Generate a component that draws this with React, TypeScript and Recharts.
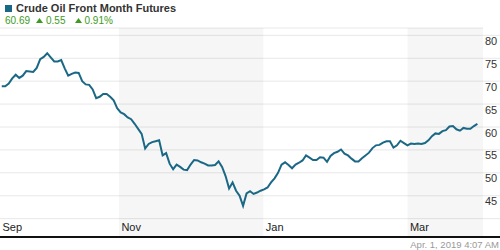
import React from 'react';
import { LineChart, Line, XAxis, YAxis, CartesianGrid, ReferenceArea } from 'recharts';

// daily settles, mid Sep 2018 -> end of Mar 2019 (trading day index)
const prices = [
  68.9, 68.9, 69.5, 70.6, 71.4, 70.7, 71.2, 72.2, 72.1, 72.0,
  72.9, 74.8, 75.3, 76.1, 75.2, 74.3, 74.3, 74.6, 72.8, 71.2,
  71.6, 71.9, 71.8, 70.0, 69.3, 69.2, 68.2, 66.3, 66.6, 67.2,
  67.2, 66.6, 65.8, 64.1, 63.2, 62.8, 62.1, 61.7, 60.7, 59.6,
  58.5, 55.3, 56.3, 56.7, 56.9, 57.1, 53.8, 54.3, 52.0, 50.8,
  51.8, 51.3, 50.7, 50.6, 51.8, 52.8, 52.7, 52.3, 52.0, 51.6,
  51.6, 51.7, 52.5, 51.3, 49.3, 46.6, 47.9, 46.1, 45.0, 42.8,
  45.5, 46.0, 45.4, 45.7, 46.1, 46.4, 46.8, 47.9, 48.8, 50.0,
  51.8, 52.3, 51.7, 51.0, 51.8, 52.2, 52.7, 53.8, 53.3, 52.8,
  52.8, 53.4, 53.3, 52.4, 53.7, 54.3, 54.6, 55.1, 54.2, 53.8,
  53.1, 52.5, 52.5, 53.2, 53.8, 54.4, 55.4, 56.0, 56.1, 56.6,
  56.9, 56.9, 55.5, 56.0, 57.0, 56.5, 56.0, 56.4, 56.3, 56.4,
  56.3, 56.5, 57.1, 58.0, 58.6, 58.5, 59.1, 59.3, 60.1, 60.2,
  59.5, 59.2, 59.8, 59.6, 59.6, 60.2, 60.69
];

// month starts on the trading day index axis
const monthTicks = [-0.5, 33.5, 74.8, 116];
const monthLabels = ['Sep', 'Nov', 'Jan', 'Mar'];
const xEnd = 137.6;

// shaded alternate months
const bands = [
  [33.5, 74.8],
  [116, 137.6]
];

const priceTicks = [40, 45, 50, 55, 60, 65, 70, 75, 80];

const lastPrice = '60.69';
const change = '0.55';
const changePct = '0.91%';
const title = 'Crude Oil Front Month Futures';
const stamp = 'Apr. 1, 2019 4:07 AM';

const chartData = prices.map((price, i) => ({ i, price }));

const FONT = "Arial, 'Liberation Sans', sans-serif";
const LINE = '#1a6886';
const GREEN = '#3d9b22';

const MonthTick = (props: any) => {
  const { x, y, payload } = props;
  const idx = monthTicks.indexOf(payload.value);
  return (
    <text x={x + 2.5} y={y - 6} fontSize={11} fontFamily={FONT} fill="#222" textAnchor="start">
      {monthLabels[idx]}
    </text>
  );
};

// label sits just under its grid line; grid line carried on through the label column
const PriceTick = (props: any) => {
  const { x, y, payload } = props;
  return (
    <g>
      <line x1={x} x2={500} y1={y} y2={y} stroke="#e8e8e8" />
      {payload.value !== 40 && (
        <text x={x + 2} y={y + 9.5} fontSize={11} fontFamily={FONT} fill="#333" textAnchor="start">
          {payload.value}
        </text>
      )}
    </g>
  );
};

const Up = () => (
  <svg width={7} height={5} style={{ display: 'inline-block', marginRight: 3, marginBottom: 1 }}>
    <polygon points="0,5 3.5,0 7,5" fill={GREEN} />
  </svg>
);

export default function App() {
  return (
    <div style={{ position: 'absolute', left: 0, top: 0, width: 500, height: 250, background: '#fff', fontFamily: FONT }}>
      <div style={{ position: 'absolute', left: 5, top: 5, width: 7, height: 7, background: LINE }} />
      <div style={{ position: 'absolute', left: 16, top: 2, fontSize: 11, fontWeight: 'bold', color: '#333', lineHeight: '13px', whiteSpace: 'nowrap' }}>
        {title}
      </div>
      <div style={{ position: 'absolute', left: 5, top: 15, fontSize: 10, color: GREEN, lineHeight: '11px', whiteSpace: 'nowrap' }}>
        <span style={{ marginRight: 6 }}>{lastPrice}</span>
        <Up />
        <span style={{ marginRight: 9 }}>{change}</span>
        <Up />
        <span>{changePct}</span>
      </div>

      <div style={{ position: 'absolute', left: 0, top: 0 }}>
        <LineChart width={500} height={240} data={chartData} margin={{ top: 28, right: 0, bottom: 0, left: 0 }}>
          <CartesianGrid vertical={false} stroke="#e8e8e8" />
          {bands.map(([a, b], k) => (
            <ReferenceArea key={k} x1={a} x2={b} fill="#000" fillOpacity={0.035} stroke="none" ifOverflow="hidden" />
          ))}
          <XAxis
            dataKey="i"
            type="number"
            domain={[-0.5, xEnd]}
            ticks={monthTicks}
            interval={0}
            allowDataOverflow
            axisLine={false}
            tickLine={false}
            tickSize={0}
            tickMargin={0}
            height={3}
            tick={<MonthTick />}
          />
          <YAxis
            orientation="right"
            domain={[36, 81.6]}
            ticks={priceTicks}
            interval={0}
            allowDataOverflow
            axisLine={false}
            tickLine={false}
            tickSize={0}
            tickMargin={0}
            width={17}
            tick={<PriceTick />}
          />
          <Line
            type="linear"
            dataKey="price"
            stroke={LINE}
            strokeWidth={2}
            dot={false}
            isAnimationActive={false}
          />
        </LineChart>
      </div>

      <div style={{ position: 'absolute', left: 0, top: 236, width: 500, height: 2, background: '#111' }} />
      <div style={{ position: 'absolute', right: 1, top: 239, fontSize: 9.5, color: '#999', lineHeight: '11px', whiteSpace: 'nowrap' }}>
        {stamp}
      </div>
    </div>
  );
}
